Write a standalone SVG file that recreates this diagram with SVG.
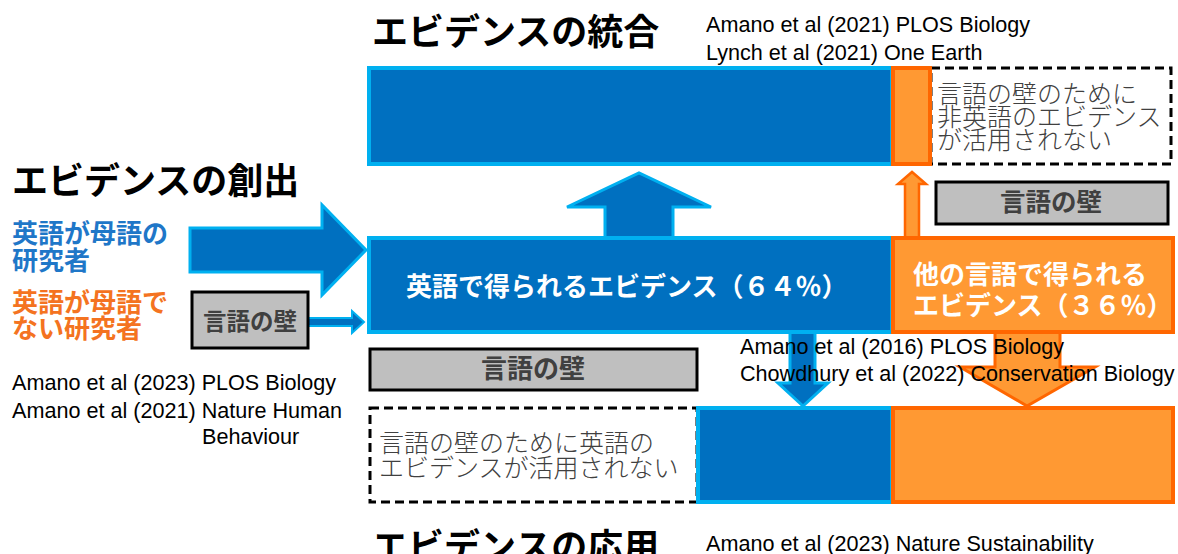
<svg xmlns="http://www.w3.org/2000/svg" width="1178" height="554" viewBox="0 0 1178 554">
<style>
.blue{fill:#0070C0;stroke:#00B0F0;stroke-width:4}
.orange{fill:#FF9933;stroke:#FF6600;stroke-width:4}
.dash{fill:#FFFFFF;stroke:#000;stroke-width:3;stroke-dasharray:9 5}
.gray{fill:#BFBFBF;stroke:#000;stroke-width:3}
.title{font-family:"Noto Sans CJK JP","Noto Sans CJK SC",sans-serif;font-weight:bold;font-size:36px;fill:#000}
.cite{font-family:"Liberation Sans",Arial,sans-serif;font-size:21.6px;fill:#000}
.wall{font-family:"Noto Sans CJK JP",sans-serif;font-weight:bold;fill:#404040;text-anchor:middle}
.white{font-family:"Noto Sans CJK JP",sans-serif;font-weight:bold;font-size:26px;fill:#FFFFFF}
.light{font-family:"Noto Sans CJK JP",sans-serif;font-weight:300;font-size:25px;fill:#404040}
.lab{font-family:"Noto Sans CJK JP",sans-serif;font-weight:bold;font-size:26px}
</style>

<g id="connectors">
  <path d="M190,228 H322 V205 L366,250 L322,295 V272 H190 Z" fill="#0070C0" stroke="#00B0F0" stroke-width="3"/>
  <path d="M308,318 H352 V311 L364,322 L352,333 V326 H308 Z" fill="#0070C0" stroke="#00B0F0" stroke-width="2"/>
  <path d="M605,238 V207 H567 L639,173 L711,207 H673 V238 Z" fill="#0070C0" stroke="#00B0F0" stroke-width="3"/>
  <path d="M905,238 V184 H898 L912,172 L926,184 H919 V238 Z" fill="#FF9933" stroke="#FF6600" stroke-width="2.5"/>
  <path d="M790,332 V383 H778 L803,406 L828,383 H815 V332 Z" fill="#0070C0" stroke="#00B0F0" stroke-width="3"/>
  <path d="M995,332 V367 H960 L1027,406 L1095,367 H1060 V332 Z" fill="#FF9933" stroke="#FF6600" stroke-width="3"/>
</g>

<g id="title-integration">
  <text class="title" x="372" y="45">エビデンスの統合</text>
  <text class="cite" x="706" y="32">Amano et al (2021) PLOS Biology</text>
  <text class="cite" x="706" y="60">Lynch et al (2021) One Earth</text>
</g>

<g id="top-bar">
  <rect class="dash" x="931" y="68" width="240" height="96"/>
  <rect class="blue" x="369" y="68" width="523" height="96"/>
  <rect class="orange" x="893" y="68" width="37" height="96"/>
  <text class="light" x="937" y="103" font-size="25.6">言語の壁のために</text>
  <text class="light" x="937" y="126" font-size="25.6">非英語のエビデンス</text>
  <text class="light" x="937" y="149" font-size="25.6">が活用されない</text>
</g>

<g id="title-creation">
  <text class="title" x="12" y="194">エビデンスの創出</text>
  <text class="lab" x="12" y="243" fill="#1F77C8">英語が母語の</text>
  <text class="lab" x="12" y="270" fill="#1F77C8">研究者</text>
  <text class="lab" x="12" y="312" fill="#F47321">英語が母語で</text>
  <text class="lab" x="12" y="338" fill="#F47321">ない研究者</text>
  <text class="cite" x="12" y="390">Amano et al (2023) PLOS Biology</text>
  <text class="cite" x="12" y="418">Amano et al (2021) Nature Human</text>
  <text class="cite" x="202" y="444">Behaviour</text>
</g>

<g id="wall-left">
  <rect class="gray" x="192" y="292" width="116" height="56"/>
  <text class="wall" x="250" y="330" font-size="23.5">言語の壁</text>
</g>

<g id="wall-right">
  <rect class="gray" x="936" y="182" width="232" height="42"/>
  <text class="wall" x="1051" y="211" font-size="25.5">言語の壁</text>
</g>

<g id="middle-bar">
  <rect class="blue" x="369" y="238" width="523" height="94"/>
  <rect class="orange" x="893" y="238" width="280" height="94"/>
  <text class="white" x="406" y="296" font-size="26.2">英語で得られるエビデンス（６４％）</text>
  <text class="white" x="913" y="284">他の言語で得られる</text>
  <text class="white" x="913" y="315">エビデンス（３６％）</text>
</g>

<g id="wall-middle">
  <rect class="gray" x="370" y="349" width="327" height="41"/>
  <text class="wall" x="533" y="378" font-size="26">言語の壁</text>
</g>

<g id="citations-middle">
  <text class="cite" x="740" y="354">Amano et al (2016) PLOS Biology</text>
  <text class="cite" x="740" y="381">Chowdhury et al (2022) Conservation Biology</text>
</g>

<g id="bottom-bar">
  <rect class="dash" x="370" y="408" width="327" height="94"/>
  <rect class="blue" x="698" y="408" width="194" height="94"/>
  <rect class="orange" x="893" y="408" width="280" height="94"/>
  <text class="light" x="379" y="452" font-size="26">言語の壁のために英語の</text>
  <text class="light" x="379" y="477" font-size="26">エビデンスが活用されない</text>
</g>

<g id="title-application">
  <text class="title" x="372" y="560">エビデンスの応用</text>
  <text class="cite" x="706" y="551">Amano et al (2023) Nature Sustainability</text>
</g>
</svg>
